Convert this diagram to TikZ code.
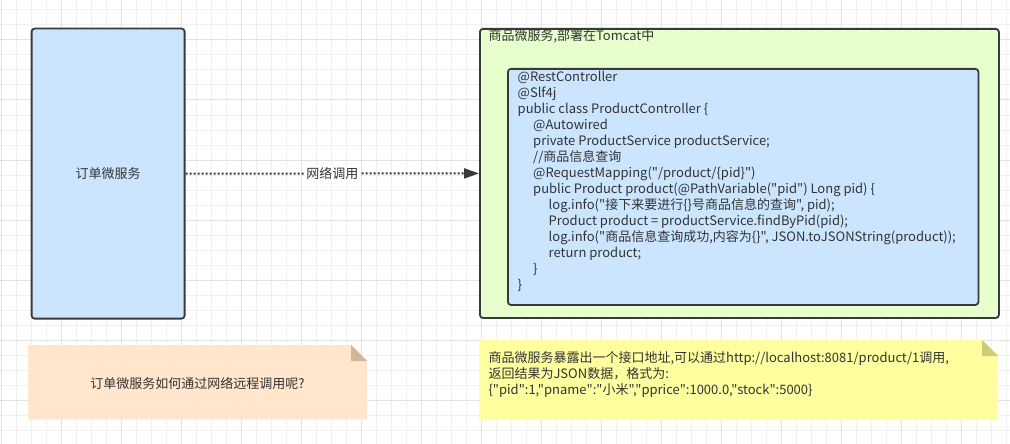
\documentclass[tikz,border=0pt]{standalone}
\usepackage{fontspec}
\newfontfamily\cjk{Noto Sans CJK SC}
\usetikzlibrary{arrows.meta}
\definecolor{stk}{HTML}{36393D}
\definecolor{txt}{HTML}{333333}
\definecolor{blueA}{HTML}{CCE5FF}
\definecolor{greenA}{HTML}{E6FFCC}
\definecolor{peach}{HTML}{FFE6CC}
\definecolor{peachfold}{HTML}{D2B498}
\definecolor{yel}{HTML}{FFFFA0}
\definecolor{yelfold}{HTML}{CCCC7A}
\definecolor{gridminor}{HTML}{F0F0F0}
\definecolor{gridmajor}{HTML}{E2E2E2}
\tikzset{
  boxstyle/.style={draw=stk, line width=1.8pt, rounded corners=3pt, inner sep=0pt},
  lbl/.style={text=txt, inner sep=0pt},
  link/.style={draw=stk, line width=2pt, dash pattern=on 2pt off 2pt, -{Triangle[length=15pt,width=10pt]}},
}
\newcommand{\ind}{\hspace*{15.5pt}}
\begin{document}
\begin{tikzpicture}[x=1pt,y=-1pt,font=\cjk\fontsize{13}{16}\selectfont]
\useasboundingbox (0,0) rectangle (1010,444);
\fill[white] (0,0) rectangle (1010,444);
% grid
\foreach \i in {0,...,67} \draw[gridminor, line width=1pt] ({1.5+15*\i},0) -- ({1.5+15*\i},444);
\foreach \i in {0,...,29} \draw[gridminor, line width=1pt] (0,{10+15*\i}) -- (1010,{10+15*\i});
\foreach \i in {0,...,16} \draw[gridmajor, line width=1pt] ({1.5+60*\i},0) -- ({1.5+60*\i},444);
\foreach \i in {0,...,6} \draw[gridmajor, line width=1pt] (0,{40+60*\i}) -- (1010,{40+60*\i});

% order service
\node[boxstyle, fill=blueA, minimum width=153pt, minimum height=290pt, anchor=north west, text=txt] (order) at (30.7,27.7) {订单微服务};

% product service container
\node[boxstyle, fill=greenA, minimum width=519pt, minimum height=289pt, anchor=north west] (svc) at (479,28) {};
\node[lbl, anchor=west] (svctitle) at (488.3,36.5) {商品微服务,部署在Tomcat中};

% inner code box
\node[boxstyle, fill=blueA, minimum width=470.5pt, minimum height=236pt, anchor=north west] (codebox) at (507,68) {};
\node[lbl, anchor=north west, align=left] (code) at (517.5,71) {%
@RestController\\
@Slf4j\\
public class ProductController \{\\
\ind @Autowired\\
\ind private ProductService productService;\\
\ind //商品信息查询\\
\ind @RequestMapping("/product/\{pid\}")\\
\ind public Product product(@PathVariable("pid") Long pid) \{\\
\ind\ind log.info("接下来要进行\{\}号商品信息的查询", pid);\\
\ind\ind Product product = productService.findByPid(pid);\\
\ind\ind log.info("商品信息查询成功,内容为\{\}", JSON.toJSONString(product));\\
\ind\ind return product;\\
\ind \}\\
\}};

% connector
\draw[link] (order.east) -- node[lbl, fill=white, inner xsep=1.5pt, inner ysep=1pt] (netlbl) {网络调用} (svc.west);

% peach note
\fill[peach] (28,345) -- (351,345) -- (367,361) -- (367,419.5) -- (28,419.5) -- cycle;
\fill[peachfold] (351,345) -- (351,361) -- (367,361) -- cycle;
\node[lbl] (q) at (197.5,383.5) {订单微服务如何通过网络远程调用呢?};

% yellow note
\fill[yel] (479,340) -- (982,340) -- (998,356) -- (998,420) -- (479,420) -- cycle;
\fill[yelfold] (982,340) -- (982,356) -- (998,356) -- cycle;
\node[lbl, anchor=north west, align=left] (ans) at (488.3,351.8) {商品微服务暴露出一个接口地址,可以通过http://localhost:8081/product/1调用,\\返回结果为JSON数据，格式为:\\\{"pid":1,"pname":"小米","pprice":1000.0,"stock":5000\}};
\end{tikzpicture}
\end{document}
